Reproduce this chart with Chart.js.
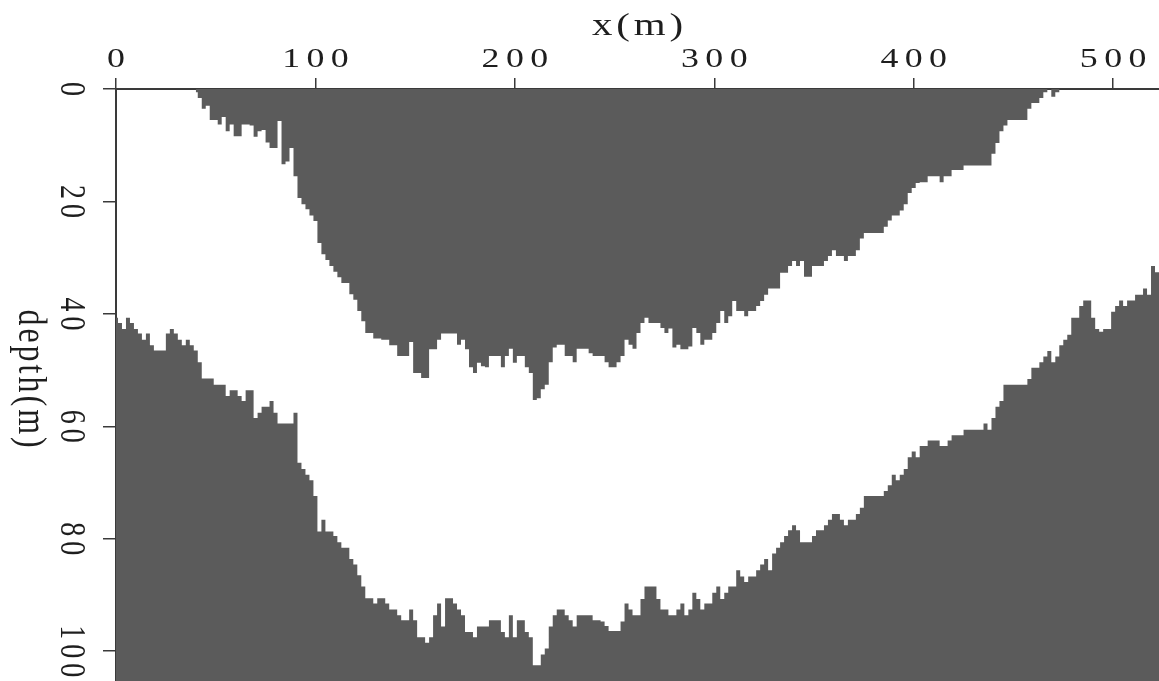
<!DOCTYPE html>
<html>
<head>
<meta charset="utf-8">
<script src="https://cdn.jsdelivr.net/npm/chart.js@4/dist/chart.umd.min.js"></script>
<style>
  html, body { margin: 0; padding: 0; background: #ffffff; }
  #wrap { width: 1159px; height: 681px; }
</style>
</head>
<body>
<div id="wrap"><canvas id="c" width="1159" height="681"></canvas></div>
<script>
// Horizontal sampling of the two depth profiles (metres along x)
const SAMPLE_STEP = 2;
const TOP_X_START = 40;
const BOTTOM_X_START = 0;

// Depth (m) of the lower edge of the upper shaded body, x = 40 .. 474
const topDepth = [
  0.6, 1.6, 3.5, 3.0, 5.5, 5.5, 6.3, 5.0, 7.5, 6.3,
  8.4, 8.4, 6.3, 6.3, 6.5, 8.5, 7.5, 7.3, 9.5, 10.5,
  10.5, 5.7, 13.4, 12.9, 10.5, 15.5, 19.4, 20.5, 21.4, 22.5,
  23.5, 27.4, 29.4, 30.4, 31.5, 32.5, 33.5, 34.5, 34.5, 36.5,
  37.5, 39.5, 41.3, 43.4, 43.4, 44.4, 44.4, 44.6, 44.6, 45.6,
  45.6, 47.5, 47.5, 47.5, 45.0, 50.5, 50.5, 51.4, 51.4, 46.3,
  46.3, 44.6, 43.5, 43.5, 43.5, 43.5, 45.5, 44.6, 46.3, 49.5,
  50.5, 48.7, 49.3, 49.5, 47.5, 47.5, 47.5, 49.5, 47.5, 46.2,
  48.7, 47.5, 47.5, 49.5, 50.5, 55.3, 55.0, 53.4, 52.6, 48.6,
  46.0, 45.5, 45.5, 47.5, 47.5, 48.6, 46.2, 46.2, 46.2, 47.0,
  47.5, 47.5, 47.5, 48.6, 49.5, 49.5, 48.6, 47.5, 44.6, 45.5,
  46.2, 43.4, 41.6, 40.7, 41.6, 41.6, 41.6, 42.5, 43.4, 42.6,
  46.0, 45.5, 46.3, 46.3, 45.8, 42.5, 43.4, 45.5, 44.6, 44.6,
  43.4, 41.6, 39.5, 41.6, 40.4, 37.7, 39.5, 39.5, 40.4, 39.5,
  39.5, 38.6, 37.7, 36.6, 35.5, 35.5, 35.5, 32.7, 32.7, 31.5,
  30.6, 31.5, 30.6, 33.4, 33.4, 31.5, 31.5, 31.5, 30.6, 29.7,
  28.7, 29.7, 29.7, 30.6, 29.7, 29.7, 28.7, 26.6, 25.6, 25.6,
  25.6, 25.6, 25.6, 24.5, 23.4, 22.5, 22.5, 21.6, 20.5, 18.5,
  17.6, 16.7, 16.6, 16.6, 15.5, 15.5, 15.5, 16.6, 15.5, 15.5,
  14.4, 14.4, 14.4, 13.6, 13.6, 13.6, 13.6, 13.6, 13.6, 13.6,
  11.5, 9.6, 7.5, 6.5, 5.5, 5.5, 5.5, 5.5, 5.5, 3.5,
  2.5, 2.5, 1.6, 0.6, 0, 1.4, 0.6, 0
];

// Depth (m) of the upper edge of the lower shaded body, x = 0 .. 522
const bottomDepth = [
  40.7, 41.6, 42.7, 40.7, 41.6, 42.7, 43.5, 44.6, 43.5, 45.6,
  46.5, 46.5, 46.5, 43.5, 42.7, 43.5, 44.6, 45.6, 44.6, 45.6,
  46.5, 48.6, 51.5, 51.5, 51.5, 52.6, 52.6, 52.6, 54.6, 53.6,
  53.6, 54.6, 55.5, 53.6, 53.6, 58.5, 57.6, 56.5, 56.5, 55.5,
  57.6, 59.5, 59.5, 59.5, 59.5, 57.6, 66.5, 67.6, 68.6, 69.6,
  72.4, 78.7, 76.6, 78.7, 78.7, 79.5, 80.6, 81.6, 81.6, 83.6,
  84.6, 86.5, 88.5, 90.6, 90.6, 91.5, 90.6, 90.6, 91.5, 92.6,
  92.6, 93.6, 94.5, 94.5, 92.6, 94.5, 97.5, 97.5, 98.5, 97.5,
  93.6, 91.5, 95.6, 90.6, 90.6, 91.5, 92.6, 93.6, 96.6, 96.6,
  97.5, 95.6, 95.6, 95.6, 94.5, 94.5, 94.5, 96.6, 97.5, 93.6,
  97.5, 94.5, 94.5, 96.6, 97.5, 102.5, 102.5, 100.6, 99.5, 95.6,
  93.6, 92.6, 92.6, 93.6, 94.5, 95.6, 93.6, 93.6, 93.6, 93.6,
  94.5, 94.5, 94.7, 95.5, 96.4, 96.4, 96.4, 94.7, 91.5, 92.6,
  93.6, 93.6, 90.7, 88.5, 88.5, 88.5, 90.7, 92.6, 92.6, 93.6,
  93.6, 92.6, 91.5, 93.6, 92.6, 89.6, 90.7, 92.6, 91.5, 91.5,
  89.6, 88.5, 90.7, 89.6, 88.5, 88.5, 85.6, 86.7, 87.7, 86.7,
  86.7, 85.6, 84.6, 83.6, 85.6, 82.6, 81.6, 80.6, 79.5, 78.5,
  77.6, 78.5, 80.6, 80.6, 80.6, 79.5, 78.5, 78.5, 77.6, 76.6,
  75.6, 75.6, 76.6, 77.6, 76.6, 76.6, 75.6, 74.5, 72.4, 72.4,
  72.4, 72.4, 72.4, 71.5, 70.5, 68.6, 69.6, 68.6, 67.6, 65.5,
  64.5, 65.5, 63.5, 63.5, 62.5, 62.5, 62.5, 63.5, 63.5, 62.5,
  61.6, 61.6, 61.6, 60.6, 60.6, 60.6, 60.6, 60.6, 59.5, 60.6,
  58.5, 56.5, 55.5, 52.6, 52.6, 52.6, 52.6, 52.6, 52.6, 51.6,
  49.6, 49.6, 48.6, 47.6, 46.6, 48.6, 47.6, 45.6, 44.6, 43.7,
  40.7, 40.7, 38.6, 37.6, 37.6, 40.7, 42.7, 43.2, 42.7, 42.7,
  39.6, 38.6, 37.6, 38.6, 37.6, 37.6, 36.6, 36.6, 35.5, 36.6,
  31.5, 32.6
];

// Axis extents and tick labels
const X_MAX = 523;
const Y_MAX = 105.3;
const xTickValues = [0, 100, 200, 300, 400, 500];
const yTickValues = [0, 20, 40, 60, 80, 100];
const xTitle = 'x(m)';
const yTitle = 'depth(m)';

// Styling
const FILL = '#5b5b5b';
const AXIS = '#3a3a3a';
const TEXT = '#1e1e1e';
const TEXT_STRETCH = 1.28;       // lettering is drawn wide, as on the plotter output
const TICK_FONT = '28px "Liberation Serif"';
const TITLE_FONT = '32px "Liberation Serif"';

function toPoints(x0, depths) {
  return depths.map((d, i) => ({ x: x0 + i * SAMPLE_STEP, y: d }));
}

const upperPts = toPoints(TOP_X_START, topDepth);
const lowerPts = toPoints(BOTTOM_X_START, bottomDepth);
// carry the last lower sample to the right edge of the section
lowerPts.push({ x: X_MAX, y: bottomDepth[bottomDepth.length - 1] });

function drawStretched(ctx, text, x, y, rotate, spacing) {
  ctx.save();
  ctx.translate(x, y);
  ctx.scale(TEXT_STRETCH, 1);
  if (rotate) ctx.rotate(Math.PI / 2);
  ctx.letterSpacing = spacing + 'px';
  ctx.textAlign = 'center';
  ctx.textBaseline = 'alphabetic';
  ctx.fillText(text, spacing / 2, 0);
  ctx.restore();
}

// Tick labels and axis titles, placed through the chart's own scales
const axisLettering = {
  id: 'axisLettering',
  afterDraw(chart) {
    const { ctx, scales, chartArea } = chart;
    const xs = scales.x, ys = scales.y;
    ctx.save();
    ctx.fillStyle = TEXT;
    ctx.font = TICK_FONT;
    xs.ticks.forEach(t => {
      drawStretched(ctx, String(t.value), xs.getPixelForValue(t.value), 67, false, 5);
    });
    ys.ticks.forEach(t => {
      drawStretched(ctx, String(t.value), 61, ys.getPixelForValue(t.value), true, 5);
    });
    ctx.font = TITLE_FONT;
    drawStretched(ctx, xTitle, (chartArea.left + chartArea.right) / 2, 35, false, 3);
    drawStretched(ctx, yTitle, 19, ys.getPixelForValue(51.5), true, 3);
    ctx.restore();
  }
};

new Chart(document.getElementById('c'), {
  type: 'line',
  data: {
    datasets: [
      {
        label: 'upper body',
        data: upperPts,
        stepped: 'middle',
        fill: { value: 0 },
        backgroundColor: FILL,
        borderColor: 'rgba(0,0,0,0)',
        borderWidth: 0,
        pointRadius: 0
      },
      {
        label: 'lower body',
        data: lowerPts,
        stepped: 'middle',
        fill: { value: Y_MAX + 5 },
        backgroundColor: FILL,
        borderColor: 'rgba(0,0,0,0)',
        borderWidth: 0,
        pointRadius: 0
      }
    ]
  },
  options: {
    responsive: false,
    animation: false,
    events: [],
    layout: { padding: 0 },
    plugins: { legend: { display: false }, tooltip: { enabled: false } },
    scales: {
      x: {
        type: 'linear',
        position: 'top',
        min: 0,
        max: X_MAX,
        afterBuildTicks: s => { s.ticks = xTickValues.map(v => ({ value: v })); },
        afterFit: s => { s.height = 89; },
        ticks: { display: false },
        grid: { drawOnChartArea: false, drawTicks: true, tickLength: 11, color: AXIS, lineWidth: 1.5 },
        border: { display: true, color: AXIS, width: 2 }
      },
      y: {
        type: 'linear',
        reverse: true,
        min: 0,
        max: Y_MAX,
        afterBuildTicks: s => { s.ticks = yTickValues.map(v => ({ value: v })); },
        afterFit: s => { s.width = 116; },
        ticks: { display: false },
        grid: { drawOnChartArea: false, drawTicks: true, tickLength: 13, color: AXIS, lineWidth: 1.5 },
        border: { display: true, color: AXIS, width: 2 }
      }
    }
  },
  plugins: [axisLettering]
});
</script>
</body>
</html>
